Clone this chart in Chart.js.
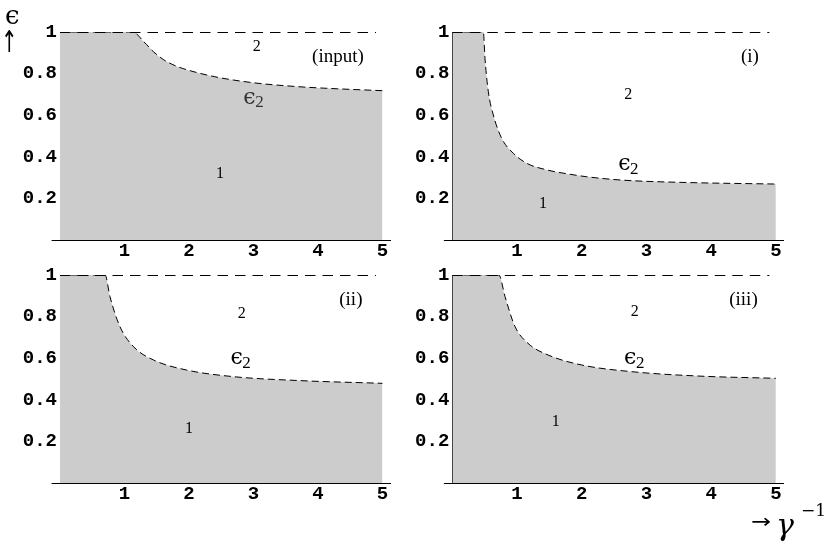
<!DOCTYPE html>
<html>
<head>
<meta charset="utf-8">
<script src="https://cdn.jsdelivr.net/npm/chart.js@4.4.1/dist/chart.umd.min.js"></script>
<style>
  body { margin: 0; background: #fff; }
  #wrap { position: relative; width: 831px; height: 544px; overflow: hidden; }
  #wrap canvas { position: absolute; left: 0; top: 0; }
  .lbl { position: absolute; font-family: 'Liberation Serif', 'DejaVu Serif', serif; color: #000; line-height: 1; white-space: nowrap; }
</style>
</head>
<body>
<div id="wrap">
  <canvas id="p1" width="831" height="544"></canvas>
  <canvas id="p2" width="831" height="544"></canvas>
  <canvas id="p3" width="831" height="544"></canvas>
  <canvas id="p4" width="831" height="544"></canvas>
  <div class="lbl" style="left:5px;top:2px;font-size:26px;font-family:'DejaVu Serif',serif;">ϵ</div>
  <div class="lbl" style="left:1px;top:27px;font-size:26px;font-family:'DejaVu Sans',sans-serif;transform:scale(0.75,1.15);transform-origin:left top;">↑</div>
  <div class="lbl" style="left:751px;top:510px;font-size:24px;font-family:'DejaVu Sans',sans-serif;transform:scaleY(0.8);">→</div>
  <div class="lbl" style="left:776px;top:510px;font-size:30px;font-style:italic;font-family:'DejaVu Serif',serif;">γ</div>
  <div class="lbl" style="left:801px;top:502px;font-size:17px;font-family:'DejaVu Serif',serif;">−1</div>
</div>
<script>
// boundary epsilon_2 as a function of gamma^-1
const inputX = [0, 1.13, 1.3, 1.45, 1.6, 1.75, 1.9, 2.4, 3.0, 3.7, 4.3, 5.0]
const inputY = [1, 1, 0.953, 0.905, 0.868, 0.843, 0.825, 0.785, 0.756, 0.737, 0.727, 0.718]

const caseIX = [0, 0.48, 0.505, 0.557, 0.634, 0.763, 0.943, 1.15, 1.46, 1.82, 2.08, 2.62, 3.55, 5.0]
const caseIY = [1, 1, 0.874, 0.713, 0.601, 0.489, 0.417, 0.369, 0.337, 0.316, 0.304, 0.288, 0.277, 0.269]

const caseIIX = [0, 0.70, 0.775, 0.93, 1.14, 1.45, 1.96, 2.69, 3.72, 5.0]
const caseIIY = [1, 1, 0.896, 0.752, 0.656, 0.592, 0.544, 0.512, 0.493, 0.48]

const caseIIIX = [0, 0.72, 0.815, 0.97, 1.17, 1.48, 2.0, 2.77, 3.80, 5.0]
const caseIIIY = [1, 1, 0.896, 0.752, 0.672, 0.616, 0.568, 0.536, 0.515, 0.504]

// the epsilon = 1 limit line
const limitX = [0, 4.9]
const limitY = [1, 1]

const xTicks = [1, 2, 3, 4, 5]
const yTicks = [0, 0.2, 0.4, 0.6, 0.8, 1]

const tickFont = { family: "'Liberation Mono', 'DejaVu Sans Mono', monospace", size: 19, weight: 'bold' }
const serif = "'Liberation Serif', 'DejaVu Serif', serif"

const notesPlugin = {
  id: 'notes',
  afterDatasetsDraw(chart, args, opts) {
    const ctx = chart.ctx
    const sx = chart.scales.x
    const sy = chart.scales.y
    ctx.save()
    ctx.textAlign = 'center'
    ctx.textBaseline = 'middle'
    opts.items.forEach(n => {
      const px = sx.getPixelForValue(n.x)
      const py = sy.getPixelForValue(n.y)
      ctx.fillStyle = n.color || '#000'
      if (n.eps) {
        ctx.font = "22px 'DejaVu Serif', serif"
        ctx.fillText('ϵ', px - 4, py)
        ctx.font = '17px ' + serif
        ctx.fillText('2', px + 6, py + 5)
      } else {
        ctx.font = n.size + 'px ' + serif
        ctx.fillText(n.text, px, py)
      }
    })
    ctx.restore()
  }
}

function makePanel(id, xs, ys, area, notes) {
  const xh = 30
  const stub = 8.4
  new Chart(document.getElementById(id), {
    type: 'line',
    data: {
      datasets: [{
        data: limitX.map((v, i) => ({ x: v, y: limitY[i] })),
        borderColor: '#000',
        borderWidth: 2,
        borderDash: [10.5, 7],
        pointRadius: 0,
        fill: false
      }, {
        data: xs.map((v, i) => ({ x: v, y: ys[i] })),
        borderColor: '#000',
        borderWidth: 1,
        borderDash: [7, 4],
        backgroundColor: '#cccccc',
        fill: 'origin',
        pointRadius: 0,
        cubicInterpolationMode: 'monotone'
      }]
    },
    options: {
      responsive: false,
      animation: false,
      devicePixelRatio: 1,
      events: [],
      layout: {
        padding: { left: 0, right: 831 - area.right, top: area.top, bottom: 544 - area.bottom - xh }
      },
      scales: {
        x: {
          type: 'linear',
          min: 0,
          max: 5.12,
          z: 1,
          afterFit: s => { s.height = xh },
          afterBuildTicks: s => { s.ticks = [0].concat(xTicks).map(v => ({ value: v })) },
          grid: { display: false, drawTicks: false },
          border: { display: true, color: '#000', width: 1 },
          ticks: {
            color: '#000',
            font: tickFont,
            padding: 0,
            maxRotation: 0,
            autoSkip: false,
            callback: v => v === 0 ? '' : String(v)
          }
        },
        y: {
          type: 'linear',
          min: 0,
          max: 1,
          z: 1,
          afterFit: s => { s.width = area.x0 },
          afterBuildTicks: s => { s.ticks = yTicks.map(v => ({ value: v })) },
          grid: {
            drawOnChartArea: false,
            drawTicks: true,
            tickLength: stub,
            lineWidth: 1,
            color: c => (c.tick && c.tick.value === 0) ? '#000' : 'rgba(0,0,0,0)'
          },
          border: { display: true, color: '#000', width: 1 },
          ticks: {
            color: '#000',
            font: tickFont,
            padding: 3 - stub,
            autoSkip: false,
            callback: v => v === 0 ? '' : String(Number(v.toFixed(1)))
          }
        }
      },
      plugins: {
        legend: { display: false },
        tooltip: { enabled: false },
        notes: { items: notes }
      }
    },
    plugins: [notesPlugin]
  })
}

document.addEventListener('DOMContentLoaded', function () {
  const leftCol = { right: 390.2, x0: 60 }
  const rightCol = { right: 783.6, x0: 452.3 }

  makePanel('p1', inputX, inputY, Object.assign({ top: 32, bottom: 240 }, leftCol), [
    { text: '2', x: 3.05, y: 0.928, size: 16 },
    { text: '(input)', x: 4.31, y: 0.88, size: 19 },
    { eps: true, x: 3.0, y: 0.683, color: '#333' },
    { text: '1', x: 2.48, y: 0.317, size: 16 }
  ])
  makePanel('p2', caseIX, caseIY, Object.assign({ top: 32, bottom: 240 }, rightCol), [
    { text: '(i)', x: 4.6, y: 0.88, size: 19 },
    { text: '2', x: 2.72, y: 0.697, size: 16 },
    { eps: true, x: 2.72, y: 0.365 },
    { text: '1', x: 1.40, y: 0.173, size: 16 }
  ])
  makePanel('p3', caseIIX, caseIIY, Object.assign({ top: 275, bottom: 483.3 }, leftCol), [
    { text: '(ii)', x: 4.51, y: 0.88, size: 19 },
    { text: '2', x: 2.82, y: 0.816, size: 16 },
    { eps: true, x: 2.8, y: 0.6 },
    { text: '1', x: 2.0, y: 0.264, size: 16 }
  ])
  makePanel('p4', caseIIIX, caseIIIY, Object.assign({ top: 275, bottom: 483.3 }, rightCol), [
    { text: '(iii)', x: 4.5, y: 0.88, size: 19 },
    { text: '2', x: 2.82, y: 0.824, size: 16 },
    { eps: true, x: 2.81, y: 0.6 },
    { text: '1', x: 1.6, y: 0.296, size: 16 }
  ])
})
</script>
</body>
</html>
